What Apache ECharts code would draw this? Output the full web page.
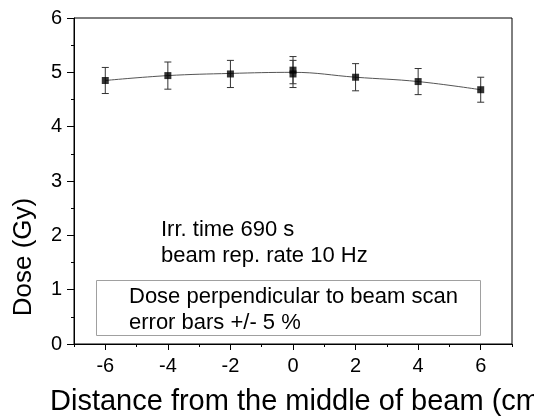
<!DOCTYPE html>
<html>
<head>
<meta charset="utf-8">
<script src="https://cdn.jsdelivr.net/npm/echarts@6/dist/echarts.min.js"></script>
<style>
html,body{margin:0;padding:0;background:#fff;}
#chart{width:534px;height:419px;}
</style>
</head>
<body>
<div id="chart"></div>
<script>
// ---- data ----
var xValues = [-6, -4, -2, 0, 0, 2, 4, 6];
var doseValues = [4.85, 4.94, 4.97, 4.97, 5.04, 4.91, 4.83, 4.68];
var errorValues = [0.24, 0.25, 0.25, 0.25, 0.25, 0.25, 0.24, 0.23];
var curveX = [-6, -4, -2, 0, 2, 4, 6];
var curveValues = [4.85, 4.94, 4.98, 5.00, 4.91, 4.83, 4.68];
var xTickLabels = [-6, -4, -2, 0, 2, 4, 6];
var yTickLabels = [0, 1, 2, 3, 4, 5, 6];
var xTitle = 'Distance from the middle of beam (cm)';
var yTitle = 'Dose (Gy)';
var noteLines = ['Irr. time 690 s', 'beam rep. rate 10 Hz'];
var legendLines = ['Dose perpendicular to beam scan', 'error bars +/- 5 %'];

var FONT = '"Liberation Sans", Arial, sans-serif';
var chart = echarts.init(document.getElementById('chart'), null, {renderer: 'canvas'});

var points = xValues.map(function (x, i) { return [x, doseValues[i]]; });
var errData = xValues.map(function (x, i) { return [x, doseValues[i] - errorValues[i], doseValues[i] + errorValues[i]]; });
var curve = curveX.map(function (x, i) { return [x, curveValues[i]]; });

var option = {
  animation: false,
  backgroundColor: '#fff',
  grid: {left: 74, top: 18, right: 22, bottom: 75, show: true, borderColor: '#000', borderWidth: 1, backgroundColor: 'transparent'},
  xAxis: [{
    type: 'value', min: -7, max: 7, interval: 1,
    axisLine: {onZero: false, lineStyle: {color: '#000', width: 1}},
    axisTick: {show: true, inside: false, length: 6, lineStyle: {color: '#000'}, customValues: xTickLabels},
    axisLabel: {customValues: xTickLabels, color: '#000', fontSize: 20, fontFamily: FONT, margin: 12},
    splitLine: {show: false}
  }, {
    type: 'value', min: -7, max: 7, interval: 1, position: 'bottom',
    axisLine: {show: false},
    axisTick: {show: true, length: 3, lineStyle: {color: '#000'}},
    axisLabel: {show: false},
    splitLine: {show: false}
  }],
  yAxis: {
    type: 'value', min: 0, max: 6, interval: 1,
    axisLine: {show: true, onZero: false, lineStyle: {color: '#000', width: 1}},
    axisTick: {show: true, length: 7, lineStyle: {color: '#000'}},
    minorTick: {show: true, splitNumber: 2, length: 3, lineStyle: {color: '#000'}},
    axisLabel: {color: '#000', fontSize: 20, fontFamily: FONT, margin: 12,
      formatter: function (v) { return yTickLabels.indexOf(v) >= 0 ? String(v) : ''; }},
    splitLine: {show: false}
  },
  series: [{
    type: 'line', data: curve, smooth: 0.4, symbol: 'none',
    lineStyle: {color: '#555', width: 1}, z: 2
  }, {
    type: 'custom', data: errData, z: 3,
    renderItem: function (params, api) {
      var x = api.value(0);
      var lo = api.coord([x, api.value(1)]);
      var hi = api.coord([x, api.value(2)]);
      var w = 3.5;
      var st = {stroke: '#333', lineWidth: 1};
      return {type: 'group', children: [
        {type: 'line', shape: {x1: lo[0], y1: lo[1], x2: hi[0], y2: hi[1]}, style: st},
        {type: 'line', shape: {x1: lo[0] - w, y1: lo[1], x2: lo[0] + w, y2: lo[1]}, style: st},
        {type: 'line', shape: {x1: hi[0] - w, y1: hi[1], x2: hi[0] + w, y2: hi[1]}, style: st}
      ]};
    }
  }, {
    type: 'scatter', data: points, symbol: 'rect', symbolSize: 7,
    itemStyle: {color: '#000'}, z: 4
  }],
  graphic: [
    {type: 'text', x: 24, y: 257, rotation: Math.PI / 2,
      style: {text: yTitle, fill: '#000', font: '26px ' + FONT, textAlign: 'center', textVerticalAlign: 'middle'}},
    {type: 'text', x: 50, y: 402,
      style: {text: xTitle, fill: '#000', font: '29px ' + FONT, textAlign: 'left', textVerticalAlign: 'middle'}},
    {type: 'text', x: 161, y: 230,
      style: {text: noteLines[0], fill: '#000', font: '22px ' + FONT, textAlign: 'left', textVerticalAlign: 'middle'}},
    {type: 'text', x: 161, y: 256,
      style: {text: noteLines[1], fill: '#000', font: '22px ' + FONT, textAlign: 'left', textVerticalAlign: 'middle'}},
    {type: 'rect', shape: {x: 96.5, y: 280.5, width: 384, height: 55},
      style: {fill: '#fff', stroke: '#a0a0a0', lineWidth: 1}, z: 10},
    {type: 'text', x: 129, y: 297, z: 11,
      style: {text: legendLines[0], fill: '#000', font: '22px ' + FONT, textAlign: 'left', textVerticalAlign: 'middle'}},
    {type: 'text', x: 129, y: 323, z: 11,
      style: {text: legendLines[1], fill: '#000', font: '22px ' + FONT, textAlign: 'left', textVerticalAlign: 'middle'}}
  ]
};
chart.setOption(option);
</script>
</body>
</html>
